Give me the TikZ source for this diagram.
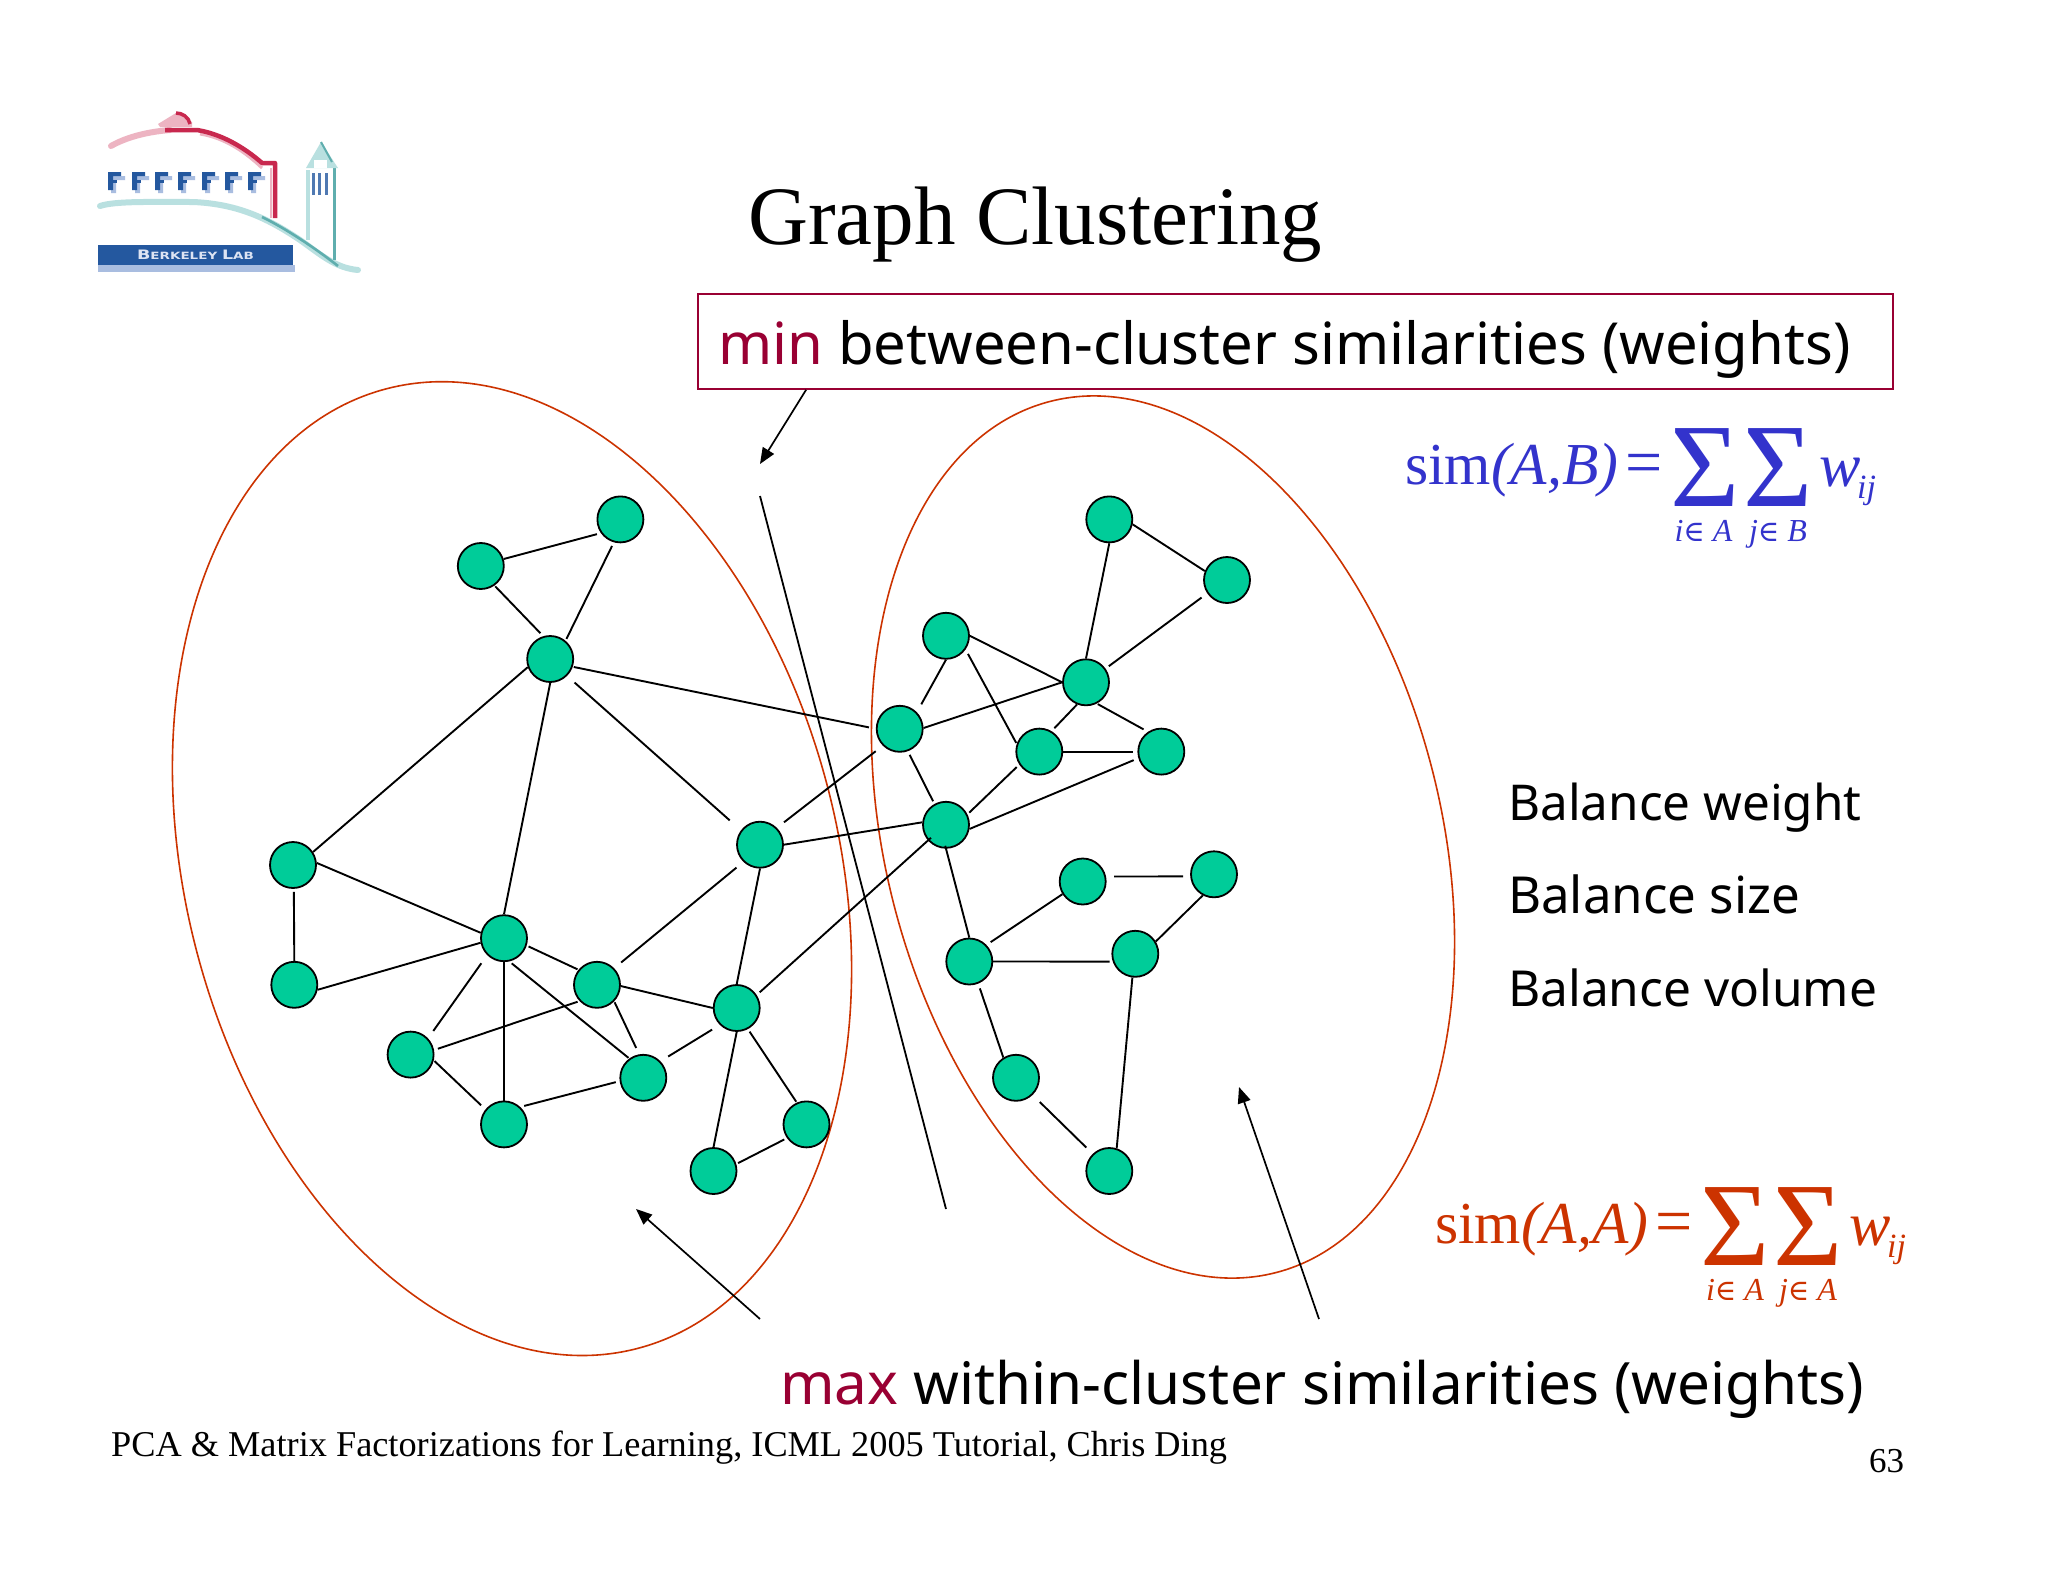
\documentclass[tikz,border=0pt]{standalone}
\usepackage{fontspec}
\setmainfont{Liberation Serif}
\newfontfamily\slidesans{Noto Sans}
\newfontfamily\logofont{DejaVu Sans}
\newfontfamily\elemfont{DejaVu Serif}
\usetikzlibrary{shapes.geometric,calc,arrows.meta}
\definecolor{nodegreen}{HTML}{00CC99}
\definecolor{clusterred}{HTML}{CC3300}
\definecolor{minred}{HTML}{990033}
\definecolor{simblue}{HTML}{3333CC}
\definecolor{lred}{HTML}{C8284E}
\definecolor{lpink}{HTML}{EDB4C2}
\definecolor{lblue}{HTML}{24589F}
\definecolor{lsky}{HTML}{A9BDE0}
\definecolor{lteal}{HTML}{5FAEAE}
\definecolor{ltealp}{HTML}{B9E0E0}
\tikzset{
  vert/.style={circle,draw=black,fill=nodegreen,line width=1.8pt,minimum size=46pt,inner sep=0pt},
  cluster/.style={ellipse,draw=clusterred,line width=1.6pt,inner sep=0pt},
  edge/.style={line width=1.9pt,black},
  gap/.style 2 args={shorten <=#1pt,shorten >=#2pt},
  pointer/.style={line width=1.7pt,black,-{Triangle[length=16pt,width=13pt]}},
  sans/.style={anchor=base west,inner sep=0pt,font=\slidesans\fontsize{#1}{#1}\selectfont},
  serif/.style={anchor=base west,inner sep=0pt,font=\fontsize{#1}{#1}\selectfont},
  sumsym/.style={anchor=base,inner sep=0pt,font=\fontsize{119}{119}\selectfont},
  sublabel/.style={anchor=base,inner sep=0pt,font=\fontsize{32}{32}\selectfont\itshape},
}
\newcommand{\minword}[1]{\textcolor{minred}{#1}}
\newcommand{\sumglyph}{Σ}
\newcommand{\elem}{{\upshape\elemfont\fontsize{29}{29}\selectfont ∈}}
\begin{document}
\begin{tikzpicture}[x=1pt,y=-1pt]
\useasboundingbox (0,0) rectangle (2048,1582);
\fill[white] (0,0) rectangle (2048,1582);

% logo
\begin{scope}[line join=round]
  \draw[ltealp,line width=6pt,line cap=round] (100,206) .. controls (115,201) and (150,202) .. (193,202) .. controls (240,204) and (270,220) .. (300,240) .. controls (320,254) and (335,268) .. (358,270);
  \draw[lteal,line width=2.6pt] (262,217) .. controls (285,228) and (315,248) .. (338,266);
  \draw[lpink,line width=6pt,line cap=round] (111,146) .. controls (125,138) and (145,132) .. (170,130);
  \fill[lpink] (158,124) -- (176,113) -- (192,122) -- (192,127) -- (160,127) -- cycle;
  \draw[lpink,line width=3pt] (200,134) .. controls (225,138) and (245,152) .. (262,168);
  \draw[lred,line width=4.5pt] (165,130) -- (197,130) .. controls (222,134) and (245,148) .. (262,163) -- (275,163) -- (275,218);
  \draw[lpink,line width=1.5pt] (271,168) -- (271,218);
  \draw[lred,line width=3.5pt] (176,113) .. controls (182,113) and (189,117) .. (190,124);
\end{scope}
\foreach \fx in {108,132,155,178,202,225,248}{
  \fill[lsky] (\fx+3,176) rectangle (\fx+17,180) (\fx+3,176) rectangle (\fx+8,193);
  \fill[lblue] (\fx,172) rectangle (\fx+13,176) (\fx,172) rectangle (\fx+5,190);
  \fill[lblue] (\fx,180) rectangle (\fx+9,183);
}
\draw[ltealp,line width=3.5pt] (308,170) -- (308,240);
\draw[lteal,line width=3pt] (334,168) -- (334,260);
\fill[ltealp] (306,168) -- (321,142) -- (338,168) -- cycle;
\fill[white] (314,160) rectangle (327,168);
\draw[lteal,line width=2pt] (321,142) -- (332,162);
\foreach \sx in {312,318,325}{\fill[lblue!80!white] (\sx,173) rectangle (\sx+3,195);}
\node[fill=lsky,minimum width=197pt,minimum height=7pt,inner sep=0pt] (logobar2) at (196.5,268.5) {};
\node[fill=lblue,minimum width=195pt,minimum height=20pt,inner sep=0pt,text=lsky!40!white,font=\logofont\bfseries] (logobar) at (195.5,255) {\scalebox{1.35}[1]{\fontsize{13}{13}\selectfont B\fontsize{10}{10}\selectfont ERKELEY \fontsize{13}{13}\selectfont L\fontsize{10}{10}\selectfont AB}};

% title
\node[serif=83] (title) at (748,244) {Graph Clustering};

% clusters
\node[cluster,minimum width=652pt,minimum height=992pt,rotate=14.7] (cl) at (512,868.6) {};
\node[cluster,minimum width=555pt,minimum height=900pt,rotate=14.6] (cr) at (1163,837) {};

% box
\node[draw=minred,line width=1.6pt,minimum width=1195pt,minimum height=95pt,inner sep=0pt] (box) at (1295.5,341.5) {};
\node[sans=58] (mintext) at (718,364.5) {\minword{min} between-cluster similarities (weights)};

% vertices
\foreach \n/\x/\y in {a/620.4/519.4,b/480.8/566,c/550.2/659,d/293/865,e/294.3/984.8,f/504/938.2,g/597/984.8,h/760/844.7,i/736.7/1008,j/410.6/1054.6,k/643.3/1077.8,l/504/1124.4,m/806.5/1124.4,n/713.5/1171,
 o/1109.3/519.4,p/1227/580,q/946/635.8,r/1086/682.3,s/899.7/728.8,t/1039.3/751.6,u/1161.3/751.6,v/946/824.8,w/1082.7/881.5,x/1214/874.3,y/1135.3/953.8,z/969.3/961.5,aa/1016/1077.8,bb/1109.3/1171}
  {\node[vert] (\n) at (\x,\y) {};}

% edges: from node, to node, anchor angles, gaps
\foreach \p/\q/\ap/\aq/\gp/\gq in {
 a/b/215/17.7/4/0, a/c/254.7/50/4/2, b/c/305/107.4/1/4, c/d/200/33.3/0/0, c/f/270/90/0/0,
 c/h/315.5/143.7/10/15, c/s/341/180/1/7, d/f/5.9/167.2/0/0, d/e/272.6/90/3/0, e/f/348.4/191.6/0/0,
 f/g/342.6/141/2/1, f/j/225.6/43.7/10/9, f/l/270/90/0/0, f/k/283/126.5/3/1, g/j/223.6/11/2/4,
 g/i/357.6/180/0/0, g/k/316/100/1/7, g/h/44.4/226/9/9, h/i/270/90/0/0, h/s/45/225.4/9/9,
 h/v/0/174/0/0, i/k/225/44/9/9, i/v/33/221/4/-4, i/m/298.6/114/3/1, i/n/270/90/0/0,
 j/l/346.7/141.7/1/6, k/l/188/47/4/4, m/n/215.7/17.6/3/2,
 s/r/2.4/180/0/0, s/q/44.7/270/9/0, s/v/290.7/119/4/3, q/r/0/180/0/0, q/t/325.5/161.5/5/1,
 r/o/90/270/0/0, o/p/348.4/158.8/0/0, r/p/35.7/214/4/7, r/t/248.7/59.5/0/4, r/u/297/124.4/1/5,
 t/u/0/180/0/4, v/t/26.5/213.5/2.5/3.5, v/u/350.8/196.3/0/5, v/z/270/90/-3/0, z/w/44.9/212.5/5/0,
 w/x/12/185/8/7, x/y/242/31.3/0/0, z/y/0/199/0/3, z/aa/292/122.5/5/0, aa/bb/314.4/134/10/9,
 y/bb/263.5/72.6/0/0}
  {\draw[edge,gap={\gp}{\gq}] (\p.\ap) -- (\q.\aq);}

% cut line and pointers
\coordinate (cuta) at (760,496);
\coordinate (cutb) at (946,1209);
\draw[line width=1.8pt] (cuta) -- (cutb);
\coordinate (mintip) at (760,464);
\draw[pointer] ($(box.south west)!0.091!(box.south east)$) -- (mintip);
\coordinate (lfrom) at (760,1319);
\coordinate (ltip) at (636,1209);
\draw[pointer] (lfrom) -- (ltip);
\coordinate (rfrom) at (1319,1319);
\coordinate (rtip) at (1239,1087);
\draw[pointer] (rfrom) -- (rtip);

% formula A,B
\begin{scope}[simblue]
  \node[serif=59.5] (f1) at (1405,484) {sim\textit{(A,B)}};
  \node[serif=66] (f1eq) at (1625,484) {=};
  \node[sumsym] (f1s) at (1705,506.5) {\sumglyph};
  \node[sumsym] (f1t) at (1778,506.5) {\sumglyph};
  \node[serif=62] (f1w) at (1819,486) {\textit{w}};
  \node[serif=34] (f1ij) at (1857,498) {\textit{ij}};
  \node[sublabel] (f1i) at (1703.5,541.5) {i\elem\ A};
  \node[sublabel] (f1j) at (1778,541.5) {j\elem\ B};
\end{scope}
% formula A,A
\begin{scope}[clusterred]
  \node[serif=59.5] (f2) at (1435,1243) {sim\textit{(A,A)}};
  \node[serif=66] (f2eq) at (1655,1243) {=};
  \node[sumsym] (f2s) at (1735,1265.5) {\sumglyph};
  \node[sumsym] (f2t) at (1808,1265.5) {\sumglyph};
  \node[serif=62] (f2w) at (1849,1245) {\textit{w}};
  \node[serif=34] (f2ij) at (1887,1257) {\textit{ij}};
  \node[sublabel] (f2i) at (1735,1300.5) {i\elem\ A};
  \node[sublabel] (f2j) at (1808,1300.5) {j\elem\ A};
\end{scope}

% balance
\node[sans=49.4] (bal1) at (1508,820) {Balance weight};
\node[sans=51] (bal2) at (1508,913) {Balance size};
\node[sans=49.6] (bal3) at (1508,1006) {Balance volume};

% bottom
\node[sans=58.4] (maxtext) at (780,1404) {\minword{max} within-cluster similarities (weights)};
\node[serif=36.3] (foot) at (111,1456) {PCA \& Matrix Factorizations for Learning, ICML 2005 Tutorial, Chris Ding};
\node[serif=35] (page) at (1869,1472) {63};
\end{tikzpicture}
\end{document}
